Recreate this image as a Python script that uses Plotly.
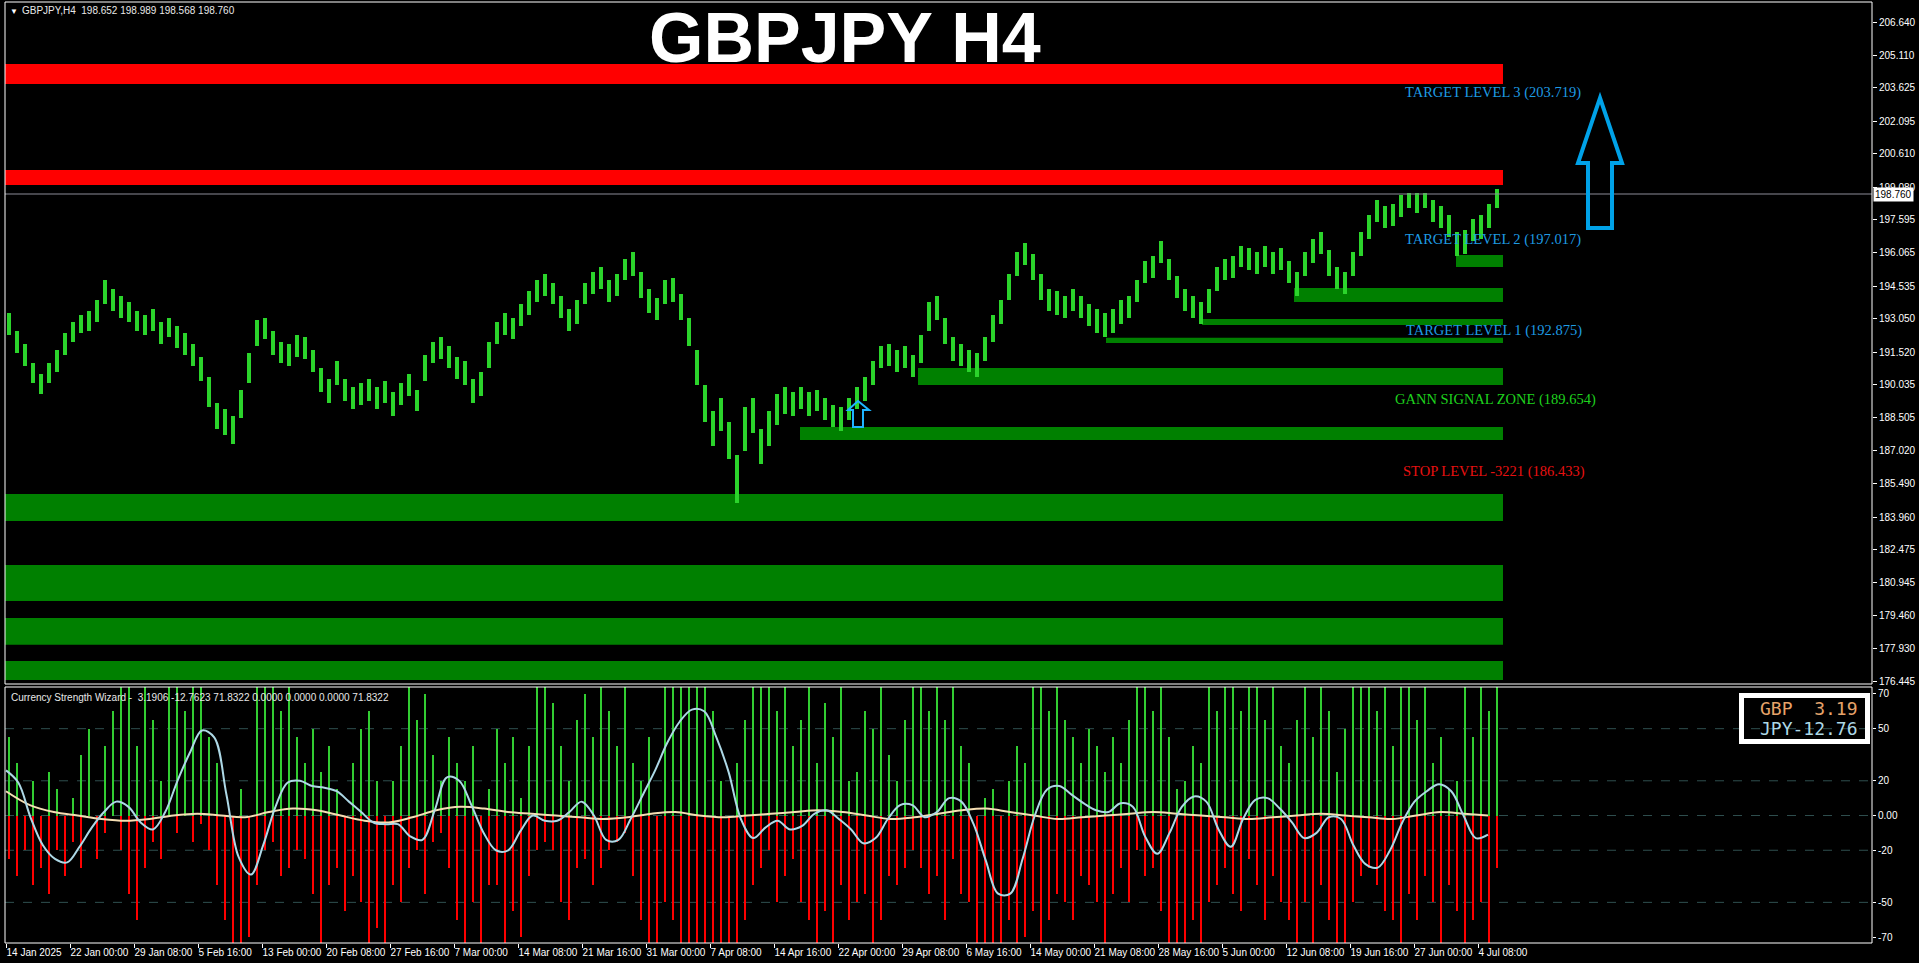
import numpy as np
import plotly.graph_objects as go

# ---------------- data ----------------
BARS_PER_SLOT = 4   # each price / histogram reading covers 4 H4 bars

price_low = [
    192.3, 191.5, 190.9, 190.1, 189.6, 190.1, 190.6, 191.4, 192.0, 192.4,
    192.5, 192.9, 193.7, 193.4, 193.1, 192.9, 192.5, 192.3, 192.5, 191.9,
    192.2, 191.7, 191.4, 190.9, 190.2, 189.0, 188.0, 187.7, 187.3, 188.5,
    190.1, 191.8, 192.1, 191.4, 191.0, 190.9, 191.3, 191.2, 190.6, 189.7,
    189.2, 190.0, 189.3, 188.9, 189.1, 189.3, 188.9, 189.2, 188.6, 189.1,
    189.5, 188.8, 190.2, 191.0, 191.2, 190.8, 190.3, 190.0, 189.2, 189.5,
    190.8, 191.9, 192.3, 192.1, 192.7, 193.2, 193.8, 194.1, 193.7, 193.1,
    192.5, 192.8, 193.7, 194.2, 194.4, 193.8, 194.1, 194.8, 195.0, 194.0,
    193.3, 193.0, 193.7, 193.8, 193.0, 191.8, 190.0, 188.3, 187.2, 187.9,
    186.6, 184.6, 187.0, 187.8, 186.4, 187.2, 188.2, 188.7, 188.6, 188.9,
    188.6, 188.8, 188.4, 188.1, 187.9, 188.4, 188.9, 189.3, 190.0, 190.8,
    190.9, 190.6, 190.8, 190.4, 191.0, 192.5, 193.0, 191.9, 191.1, 190.9,
    190.6, 190.4, 191.1, 192.0, 192.8, 193.9, 195.0, 195.5, 194.8, 193.9,
    193.4, 193.2, 193.1, 193.4, 193.1, 192.7, 192.4, 192.2, 192.4, 192.8,
    193.1, 193.8, 194.7, 194.9, 195.6, 194.8, 194.0, 193.4, 193.1, 192.8,
    193.3, 194.3, 194.8, 194.9, 195.4, 195.3, 195.1, 195.4, 195.1, 195.3,
    194.7, 194.1, 195.0, 195.6, 196.0, 195.0, 194.4, 194.2, 195.0, 195.9,
    196.7, 197.5, 197.2, 197.3, 197.7, 198.1, 197.9, 198.1, 197.5, 197.2,
    196.8, 195.9, 196.0, 196.6, 196.7, 197.2, 198.1,
]
price_high = [
    193.3, 192.5, 191.9, 191.0, 190.5, 191.0, 191.6, 192.4, 192.9, 193.2,
    193.4, 193.9, 194.8, 194.4, 194.1, 193.8, 193.4, 193.2, 193.5, 192.9,
    193.1, 192.7, 192.4, 191.9, 191.3, 190.4, 189.2, 188.9, 188.6, 189.8,
    191.5, 193.0, 193.1, 192.5, 192.0, 191.9, 192.3, 192.2, 191.6, 190.8,
    190.3, 191.1, 190.3, 189.9, 190.1, 190.3, 189.9, 190.2, 189.7, 190.1,
    190.5, 189.8, 191.4, 192.0, 192.2, 191.8, 191.3, 191.1, 190.3, 190.6,
    192.0, 192.9, 193.3, 193.1, 193.7, 194.3, 194.8, 195.1, 194.7, 194.1,
    193.5, 193.9, 194.7, 195.2, 195.4, 194.8, 195.1, 195.8, 196.1, 195.2,
    194.4, 194.0, 194.8, 194.9, 194.2, 193.1, 191.6, 190.0, 188.8, 189.4,
    188.3, 186.8, 189.0, 189.4, 188.0, 188.8, 189.6, 189.9, 189.7, 189.9,
    189.7, 189.8, 189.4, 189.1, 189.0, 189.4, 189.9, 190.4, 191.1, 191.8,
    191.9, 191.6, 191.8, 191.4, 192.3, 193.8, 194.1, 193.1, 192.2, 191.9,
    191.6, 191.5, 192.2, 193.2, 193.9, 195.1, 196.1, 196.5, 196.0, 195.1,
    194.4, 194.3, 194.1, 194.4, 194.1, 193.7, 193.5, 193.3, 193.5, 193.9,
    194.1, 194.8, 195.7, 195.9, 196.6, 195.8, 195.0, 194.4, 194.1, 193.8,
    194.4, 195.4, 195.8, 195.9, 196.4, 196.3, 196.1, 196.4, 196.1, 196.3,
    195.7, 195.2, 196.1, 196.7, 197.0, 196.2, 195.4, 195.2, 196.1, 197.0,
    197.8, 198.5, 198.2, 198.3, 198.7, 198.8, 198.8, 198.8, 198.5, 198.2,
    197.8, 197.0, 197.1, 197.6, 197.8, 198.3, 199.0,
]

hist_pos = [
    45, 30, 0, 20, 0, 25, 15, 0, 10, 35, 50, 0, 40, 60,
    75, 80, 40, 80, 55, 20, 80, 80, 60, 80, 80, 45, 30, 0,
    0, 15, 0, 80, 80, 80, 60, 80, 45, 30, 50, 25, 40, 15, 0, 30,
    50, 60, 20, 0, 20, 40, 80, 55, 70, 35, 20, 45, 30, 20, 40, 0, 15,
    50, 30, 45, 10, 40, 80, 80, 65, 40, 20, 55, 70, 45, 80, 60, 40, 80, 30,
    20, 45, 0, 80, 80, 80, 80, 80, 80, 60, 20, 0, 30, 55,
    80, 80, 80, 60, 80, 40, 55, 80, 30, 65, 45, 80, 20,
    25, 60, 50, 80, 35, 20, 55, 80, 80, 60, 80, 55, 80, 40, 30,
    0, 10, 15, 0, 20, 40, 30, 80, 80, 60, 80, 55, 45, 30,
    50, 40, 25, 45, 30, 55, 80, 80, 60, 80, 45, 15, 20, 40, 30, 80, 60,
    80, 80, 60, 80, 80, 55, 80, 40, 30, 55, 80, 45, 80, 60, 25,
    50, 80, 80, 80, 60, 80, 40, 80, 80, 55, 80, 30, 45, 15,
    20, 80, 45, 80, 60, 80,
]
hist_neg = [
    -25, -35, -20, -40, -30, -45, -20, -35, -15, -30, 0, -25, -10, 0,
    -20, -45, -60, -30, -15, -25, 0, -10, 0, -15, -5, -20, -40, -60,
    -80, -80, -70, -40, -20, -15, -35, -30, -20, -25, -45, -80, -40, -30, -55, -35,
    -50, -80, -65, -80, -40, -50, -30, -20, -45, -15, -10, -30, -60, -80, -50, -80, -40,
    -40, -80, -55, -70, -35, -20, -15, -20, -50, -60, -30, -25, -40, -30, -20, -15, -10, -35,
    -60, -80, -80, -50, -60, -80, -80, -80, -80, -80, -80, -80, -80, -60,
    -40, -30, -20, -50, -35, -25, -50, -60, -80, -55, -80, -40, -60,
    -50, -45, -80, -60, -35, -40, -30, -20, -30, -45, -35, -60, -25, -45, -50,
    -80, -80, -80, -80, -60, -80, -70, -55, -80, -60, -45, -50, -60, -35,
    -40, -50, -80, -45, -30, -50, -20, -35, -30, -55, -80, -80, -80, -60, -80, -50, -40,
    -30, -45, -55, -25, -40, -60, -35, -50, -60, -80, -50, -80, -40, -60, -80,
    -80, -50, -35, -30, -40, -55, -60, -80, -45, -60, -35, -50, -80, -40,
    -55, -80, -60, -50, -80, -30,
]

blue_line = [
    26, 19, -1, -17, -25, -27, -18, -7, 2, 8,
    5, -4, -8, 2, 20, 36, 49, 45, 12, -24,
    -34, -17, 5, 19, 20, 17, 16, 14, 8, 2,
    -4, -5, -5, -12, -14, 3, 22, 20, 6, -10,
    -20, -20, -9, 0, -3, -3, 2, 8, 0, -14,
    -14, -2, 12, 26, 42, 54, 61, 60, 45, 25,
    -2, -13, -7, -3, -8, -6, 1, 3, -2, -8,
    -16, -13, -2, 6, 6, -1, 2, 10, 8, -5,
    -26, -45, -45, -25, 0, 15, 17, 12, 7, 3,
    2, 7, 5, -12, -22, -10, 5, 11, 8, -8,
    -18, -2, 9, 10, 4, -4, -13, -10, -1, -2,
    -17, -28, -30, -20, -4, 8, 14, 18, 14, 0,
    -13, -11,
]
tan_line = [
    14, 6, 2, 0, -2, -3, -2, 0, 1, 0, -1, 2, 4, 3, 0, -3, -4, -1, 3, 5,
    4, 2, 1, 0, -1, -2, -1, 1, 2, 0, -1, 0, 1, 2, 3, 2, 0, -2, -1, 1,
    3, 4, 2, 0, -2, -1, 0, 1, 2, 1, 0, -1, -2, -1, 0, 1, 0, -1, -2, 0,
    2, 1, 0,
]
LINE_LAST_BAR = 741

date_labels = [
    "14 Jan 2025", "22 Jan 00:00", "29 Jan 08:00", "5 Feb 16:00", "13 Feb 00:00",
    "20 Feb 08:00", "27 Feb 16:00", "7 Mar 00:00", "14 Mar 08:00", "21 Mar 16:00",
    "31 Mar 00:00", "7 Apr 08:00", "14 Apr 16:00", "22 Apr 00:00", "29 Apr 08:00",
    "6 May 16:00", "14 May 00:00", "21 May 08:00", "28 May 16:00", "5 Jun 00:00",
    "12 Jun 08:00", "19 Jun 16:00", "27 Jun 00:00", "4 Jul 08:00",
]
BARS_PER_DATE_TICK = 32

price_ticks = [206.640, 205.110, 203.625, 202.095, 200.610, 199.080, 197.595,
               196.065, 194.535, 193.050, 191.520, 190.035, 188.505, 187.020,
               185.490, 183.960, 182.475, 180.945, 179.460, 177.930, 176.445]
osc_ticks = [70, 50, 20, 0, -20, -50, -70]
osc_tick_text = ["70", "50", "20", "0.00", "-20", "-50", "-70"]
osc_levels = [50, 20, 0, -20, -50]

last_price = 198.760
header_text = "GBPJPY,H4  198.652 198.989 198.568 198.760"
osc_title = "Currency Strength Wizard -  3.1906 -12.7623 71.8322 0.0000 0.0000 0.0000 71.8322"
gbp_text, jpy_text = "GBP  3.19", "JPY-12.76"

red_zones = [(203.80, 204.72), (199.17, 199.86)]
green_full_zones = [(183.78, 185.02), (180.12, 181.77), (178.11, 179.34), (176.50, 177.37)]
green_part_zones = [(195.42, 195.97, 725), (193.81, 194.45, 644), (192.76, 193.04, 598),
                    (191.94, 192.17, 550), (190.01, 190.79, 456), (187.49, 188.09, 397)]

level_labels = [
    ("TARGET LEVEL 3 (203.719)", 698.5, 203.39, "#1E9BE3"),
    ("TARGET LEVEL 2 (197.017)", 698.5, 196.66, "#1E9BE3"),
    ("TARGET LEVEL 1 (192.875)", 699.0, 192.49, "#1E9BE3"),
    ("GANN SIGNAL ZONE (189.654)", 693.5, 189.33, "#1ED21E"),
    ("STOP LEVEL -3221 (186.433)", 697.5, 186.07, "#E81010"),
]

big_arrow = [(797, 203.16), (808, 200.18), (803, 200.18), (803, 197.20),
             (791, 197.20), (791, 200.18), (786, 200.18)]
small_arrow = [(426, 189.28), (431.5, 188.87), (428.5, 188.87), (428.5, 188.09),
               (423.5, 188.09), (423.5, 188.87), (421, 188.87)]

# ---------------- geometry ----------------
W, H = 1919, 963
ML, MR, MT, MB = 5, 47, 2, 20
PW, PH = W - ML - MR, H - MT - MB


def py(pix):   # pixel row -> paper y
    return (H - MB - pix) / PH


def pxp(pix):  # pixel column -> paper x
    return (pix - ML) / PW


n_slots = len(price_low)
slot_x = [BARS_PER_SLOT * k + 1.5 for k in range(n_slots)]
last_bar = BARS_PER_SLOT * n_slots - 1
blue_x = np.linspace(0, LINE_LAST_BAR, len(blue_line))
tan_x = np.linspace(0, LINE_LAST_BAR, len(tan_line))
date_ticks = [BARS_PER_DATE_TICK * i for i in range(len(date_labels))]

fig = go.Figure()
fig.add_trace(go.Bar(
    x=slot_x, y=[h - l for h, l in zip(price_high, price_low)], base=price_low,
    width=1.8, marker=dict(color="#2BD42B", line=dict(width=0)),
    xaxis="x", yaxis="y", hoverinfo="skip"))
fig.add_trace(go.Bar(
    x=slot_x, y=hist_pos, width=1.3, marker=dict(color="#32CD32", line=dict(width=0)),
    xaxis="x", yaxis="y2", hoverinfo="skip"))
fig.add_trace(go.Bar(
    x=slot_x, y=hist_neg, width=1.3, marker=dict(color="#FF0000", line=dict(width=0)),
    xaxis="x", yaxis="y2", hoverinfo="skip"))
fig.add_trace(go.Scatter(
    x=tan_x, y=tan_line, mode="lines", line=dict(color="#F5DEB3", width=2, shape="spline"),
    xaxis="x", yaxis="y2", hoverinfo="skip"))
fig.add_trace(go.Scatter(
    x=blue_x, y=blue_line, mode="lines", line=dict(color="#ADD8E6", width=2, shape="spline"),
    xaxis="x", yaxis="y2", hoverinfo="skip"))

shapes = []
zone_end = last_bar + 1.5
for lo, hi in red_zones:
    shapes.append(dict(type="rect", xref="x", yref="y", x0=-0.5, x1=zone_end, y0=lo, y1=hi,
                       fillcolor="#FF0000", line=dict(width=0), layer="below"))
for lo, hi in green_full_zones:
    shapes.append(dict(type="rect", xref="x", yref="y", x0=-0.5, x1=zone_end, y0=lo, y1=hi,
                       fillcolor="#008000", line=dict(width=0), layer="below"))
for lo, hi, start in green_part_zones:
    shapes.append(dict(type="rect", xref="x", yref="y", x0=start, x1=zone_end, y0=lo, y1=hi,
                       fillcolor="#008000", line=dict(width=0), layer="below"))
# current price line
shapes.append(dict(type="line", xref="paper", yref="y", x0=0, x1=1, y0=last_price, y1=last_price,
                   line=dict(color="#8C8C98", width=1)))
# oscillator levels
for lv in osc_levels:
    shapes.append(dict(type="line", xref="paper", yref="y2", x0=0, x1=1, y0=lv, y1=lv,
                       line=dict(color="#2F4F4F", width=1, dash="dash"), layer="below"))


def path_of(pts):
    return "M " + " L ".join(f"{x},{y}" for x, y in pts) + " Z"


shapes.append(dict(type="path", xref="x", yref="y", path=path_of(big_arrow),
                   line=dict(color="#00A2E8", width=4)))
shapes.append(dict(type="path", xref="x", yref="y", path=path_of(small_arrow),
                   line=dict(color="#1EB4FF", width=2)))
# panel frames
shapes.append(dict(type="rect", xref="paper", yref="paper", x0=0, x1=1, y0=py(684), y1=1,
                   line=dict(color="white", width=1)))
shapes.append(dict(type="rect", xref="paper", yref="paper", x0=0, x1=1, y0=0, y1=py(687),
                   line=dict(color="white", width=1)))
# currency legend box
shapes.append(dict(type="rect", xref="paper", yref="paper", x0=pxp(1741.5), x1=pxp(1867.5),
                   y0=py(741.5), y1=py(695.5), line=dict(color="white", width=5)))

ann = []
ann.append(dict(text="<b>GBPJPY H4</b>", xref="paper", yref="paper", x=pxp(845), y=py(38),
                xanchor="center", yanchor="middle", showarrow=False,
                font=dict(family="Liberation Sans, Arial, sans-serif", size=70, color="white")))
ann.append(dict(text="▼", xref="paper", yref="paper", x=pxp(8), y=py(11), xanchor="left",
                yanchor="middle", showarrow=False, font=dict(size=8, color="white")))
ann.append(dict(text=header_text, xref="paper", yref="paper", x=pxp(20), y=py(11), xanchor="left",
                yanchor="middle", showarrow=False,
                font=dict(family="Liberation Sans, Arial, sans-serif", size=10, color="#E8E8E8")))
ann.append(dict(text=osc_title, xref="paper", yref="paper", x=pxp(9), y=py(697), xanchor="left",
                yanchor="middle", showarrow=False,
                font=dict(family="Liberation Sans, Arial, sans-serif", size=10, color="#E8E8E8")))
for txt, xb, yp, col in level_labels:
    ann.append(dict(text=txt, xref="x", yref="y", x=xb, y=yp, xanchor="left", yanchor="middle",
                    showarrow=False,
                    font=dict(family="Georgia, Liberation Serif, serif", size=14.5, color=col)))
ann.append(dict(text=gbp_text, xref="paper", yref="paper", x=pxp(1758), y=py(708), xanchor="left",
                yanchor="middle", showarrow=False,
                font=dict(family="DejaVu Sans Mono, monospace", size=18, color="#E6A36A")))
ann.append(dict(text=jpy_text, xref="paper", yref="paper", x=pxp(1758), y=py(728), xanchor="left",
                yanchor="middle", showarrow=False,
                font=dict(family="DejaVu Sans Mono, monospace", size=18, color="#ADD8E6")))
ann.append(dict(text=f"{last_price:.3f}", xref="paper", yref="y", x=1, y=last_price, xanchor="left",
                yanchor="middle", xshift=1, showarrow=False, bgcolor="white", borderpad=1,
                font=dict(family="Liberation Sans, Arial, sans-serif", size=10, color="black")))

axis_font = dict(family="Liberation Sans, Arial, sans-serif", size=10, color="white")
fig.update_layout(
    width=W, height=H, autosize=False,
    margin=dict(l=ML, r=MR, t=MT, b=MB, pad=0, autoexpand=False),
    paper_bgcolor="black", plot_bgcolor="black",
    showlegend=False, barmode="overlay", bargap=0, hovermode=False,
    xaxis=dict(range=[-0.5, (PW / 2) - 0.5], anchor="y2", showgrid=False, zeroline=False,
               showline=False, tickmode="array", tickvals=date_ticks, ticktext=date_labels,
               ticks="outside", ticklen=4, tickcolor="white", tickfont=axis_font,
               tickangle=0, automargin=False, ticklabelposition="outside right"),
    yaxis=dict(domain=[py(684), 1], range=[176.314, 207.556], side="right", anchor="x",
               showgrid=False, zeroline=False, showline=False, tickmode="array",
               tickvals=price_ticks, ticktext=[f"{v:.3f}" for v in price_ticks],
               ticks="outside", ticklen=4, tickcolor="white", tickfont=axis_font,
               automargin=False),
    yaxis2=dict(domain=[0, py(687)], range=[-73.4, 74.0], side="right", anchor="x",
                showgrid=False, zeroline=False, showline=False, tickmode="array",
                tickvals=osc_ticks, ticktext=osc_tick_text,
                ticks="outside", ticklen=3, tickcolor="white", tickfont=axis_font,
                automargin=False),
    shapes=shapes, annotations=ann,
)

fig.write_html("out.html", config={"displayModeBar": False},
               post_script="document.body.style.margin='0';document.body.style.overflow='hidden';")
